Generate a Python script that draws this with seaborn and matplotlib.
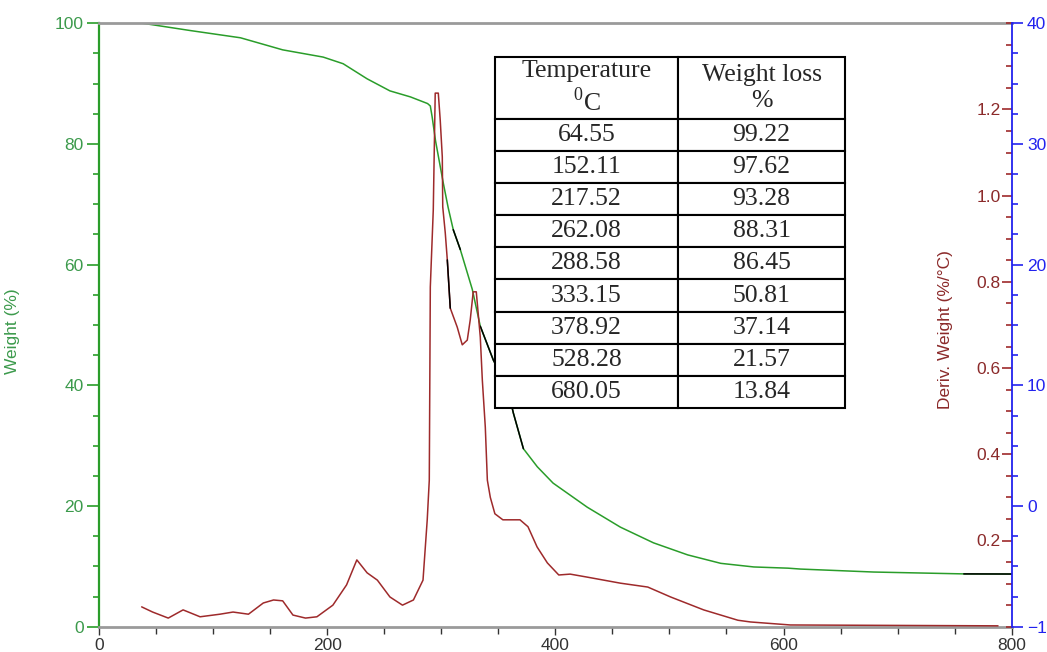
import numpy as np
import matplotlib
matplotlib.use("Agg")
import matplotlib.pyplot as plt
import seaborn as sns
from matplotlib.ticker import MultipleLocator, FixedLocator

temp_w = [38.6, 42, 80, 124, 161, 196.5, 214, 235, 255, 273, 288, 290.4, 292,
          295, 301.8, 306, 310.5, 316.7, 327.2, 334.2, 345.6, 357.9, 363.2,
          372, 384.2, 398, 428, 457, 486, 516, 545, 574, 604, 615, 679, 758, 800]
weight = [100.0, 99.9, 98.8, 97.6, 95.6, 94.4, 93.3, 90.8, 88.8, 87.8, 86.7,
          86.3, 84.5, 80.5, 73.5, 69.5, 65.8, 62.5, 55.9, 49.8, 44.2, 39.7,
          35.4, 29.5, 26.5, 23.8, 19.8, 16.5, 13.9, 11.9, 10.5, 9.9, 9.7, 9.55,
          9.06, 8.75, 8.73]

temp_d = [37.4, 47, 60.7, 73.7, 88.6, 106, 117.5, 131, 144, 153, 161, 170, 181,
          191, 205, 217, 226, 235, 244, 255, 266, 275.6, 284, 287.7, 289.5,
          290.4, 293, 294.7, 297.4, 299.1, 300.9, 301.3, 303.5, 305.3, 307.9,
          314, 318.4, 322.8, 325.4, 328, 330.7, 334.2, 336, 338.6, 340.4, 343,
          347, 354, 369, 376, 384, 393, 403, 413, 428, 457, 481, 501, 530, 560,
          571, 606, 788]
deriv = [0.046, 0.034, 0.020, 0.039, 0.023, 0.029, 0.034, 0.029, 0.055, 0.062,
         0.060, 0.027, 0.020, 0.023, 0.050, 0.097, 0.155, 0.125, 0.108, 0.069,
         0.050, 0.062, 0.108, 0.248, 0.340, 0.788, 0.967, 1.238, 1.238, 1.175,
         1.090, 0.974, 0.914, 0.851, 0.739, 0.695, 0.654, 0.665, 0.712, 0.777,
         0.777, 0.672, 0.572, 0.463, 0.340, 0.300, 0.262, 0.248, 0.248, 0.232,
         0.185, 0.148, 0.120, 0.122, 0.115, 0.101, 0.092, 0.069, 0.039, 0.015,
         0.011, 0.004, 0.002]

# stretches where the trace is drawn black in the original export
black_w = [(310.5, 316.7), (334.2, 372), (758, 800)]
black_d = [(305.3, 307.9)]

tbl_header = ["Temperature\n$^{\\mathrm{0}}$C", "Weight loss\n%"]
tbl_temp = ["64.55", "152.11", "217.52", "262.08", "288.58", "333.15",
            "378.92", "528.28", "680.05"]
tbl_loss = ["99.22", "97.62", "93.28", "88.31", "86.45", "50.81",
            "37.14", "21.57", "13.84"]

GREEN = "#2a9d2a"
GREEN_TXT = "#3c9a4c"
RED = "#9e2a2b"
RED_TXT = "#8b2a2a"
BLUE = "#2222ee"
GRAY = "#9a9a9a"

sns.set_style("white")
plt.rcParams["font.family"] = ["Liberation Sans", "DejaVu Sans"]
plt.rcParams["mathtext.fontset"] = "custom"
plt.rcParams["mathtext.rm"] = "Liberation Serif"

fig = plt.figure(figsize=(10.47, 6.52), dpi=100)
ax = fig.add_axes([99 / 1047, 25.3 / 652, 912.7 / 1047, 603.4 / 652])
ax2 = ax.twinx()
ax3 = ax.twinx()

# --- weight curve ---
tw = np.array(temp_w)
ww = np.array(weight)
sns.lineplot(x=tw, y=ww, ax=ax, color=GREEN, lw=1.1, sort=False)
for lo, hi in black_w:
    m = (tw >= lo) & (tw <= hi)
    sns.lineplot(x=tw[m], y=ww[m], ax=ax, color="black", lw=1.1, sort=False)

# --- derivative curve ---
td = np.array(temp_d)
dd = np.array(deriv)
sns.lineplot(x=td, y=dd, ax=ax2, color=RED, lw=1.1, sort=False)
for lo, hi in black_d:
    m = (td >= lo) & (td <= hi)
    sns.lineplot(x=td[m], y=dd[m], ax=ax2, color="black", lw=1.1, sort=False)

# --- axes ---
ax.set_xlim(0, 800)
ax.set_ylim(0, 100)
ax2.set_ylim(0, 1.4)
ax3.set_ylim(-10, 40)

ax.xaxis.set_major_locator(MultipleLocator(200))
ax.xaxis.set_minor_locator(MultipleLocator(50))
ax.yaxis.set_major_locator(MultipleLocator(20))
ax.yaxis.set_minor_locator(MultipleLocator(5))
ax2.yaxis.set_major_locator(FixedLocator([0.2, 0.4, 0.6, 0.8, 1.0, 1.2]))
ax2.yaxis.set_minor_locator(MultipleLocator(0.05))
ax3.yaxis.set_major_locator(MultipleLocator(10))
ax3.yaxis.set_minor_locator(MultipleLocator(2.5))

ax.tick_params(axis="x", which="both", direction="out", bottom=True,
               colors="#333333", width=1, labelsize=12.5, pad=2)
ax.tick_params(axis="x", which="major", length=6)
ax.tick_params(axis="x", which="minor", length=5)
ax.tick_params(axis="y", which="both", direction="out", left=True,
               colors=GREEN, labelcolor=GREEN_TXT, width=1.2, labelsize=12.5, pad=2)
ax.tick_params(axis="y", which="major", length=9)
ax.tick_params(axis="y", which="minor", length=4)

ax2.tick_params(axis="y", which="both", direction="in", right=True,
                colors=RED, labelcolor=RED_TXT, width=1.2, labelsize=12.5, pad=-8)
ax2.tick_params(axis="y", which="major", length=7)
ax2.tick_params(axis="y", which="minor", length=4)
for lbl in ax2.get_yticklabels():
    lbl.set_horizontalalignment("right")

ax3.tick_params(axis="y", which="both", direction="out", right=True,
                colors=BLUE, labelcolor=BLUE, width=1.2, labelsize=12.5, pad=3)
ax3.tick_params(axis="y", which="major", length=8)
ax3.tick_params(axis="y", which="minor", length=4)

for a in (ax, ax2, ax3):
    a.set_xlabel("")
    a.grid(False)
for a in (ax2, ax3):
    for s in ("left", "top", "bottom"):
        a.spines[s].set_visible(False)
ax2.spines["right"].set_visible(False)
ax3.spines["right"].set_color(BLUE)
ax3.spines["right"].set_linewidth(1.3)
ax.spines["right"].set_visible(False)
ax.spines["left"].set_color(GREEN)
ax.spines["left"].set_linewidth(1.6)
ax.spines["top"].set_color(GRAY)
ax.spines["top"].set_linewidth(2)
ax.spines["bottom"].set_color(GRAY)
ax.spines["bottom"].set_linewidth(2)

ax.set_ylabel("Weight (%)", color=GREEN_TXT, fontsize=12.5)
ax.yaxis.set_label_coords(-0.0866, 0.49)
ax2.set_ylabel("")
ax3.set_ylabel("")
ax.text(0.928, 0.492, "Deriv. Weight (%/°C)", transform=ax.transAxes,
        rotation=90, ha="center", va="center", color=RED_TXT, fontsize=12.5)

# --- inset table ---
rows = [[t, w] for t, w in zip(tbl_temp, tbl_loss)]
tbl = ax3.table(cellText=rows, colLabels=tbl_header, cellLoc="center",
                colLoc="center", colWidths=[0.523, 0.477],
                bbox=[0.4339, 0.3624, 0.3835, 0.5818])
tbl.auto_set_font_size(False)
tbl.set_fontsize(18.5)
for (r, c), cell in tbl.get_celld().items():
    cell.set_height(1.92 if r == 0 else 1.0)
    cell.set_linewidth(1.5)
    cell.set_edgecolor("black")
    cell.set_facecolor("white")
    cell.get_text().set_fontfamily("Liberation Serif")
tbl.set_zorder(10)

fig.savefig("out.png", dpi=100)
